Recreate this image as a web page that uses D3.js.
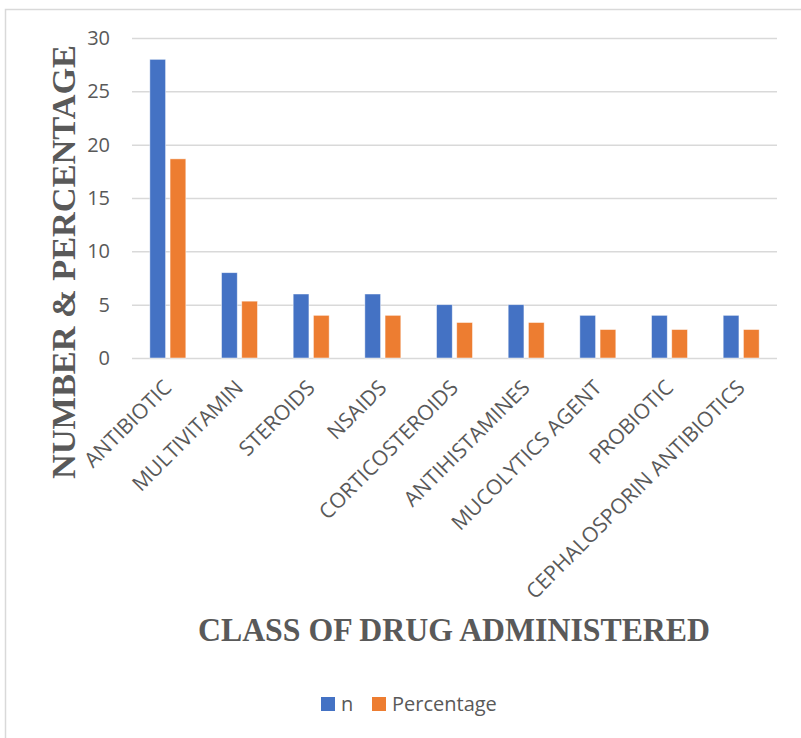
<!DOCTYPE html>
<html>
<head>
<meta charset="utf-8">
<script src="https://cdn.jsdelivr.net/npm/d3@7"></script>
<style>
  body { margin: 0; background: #fff; }
  #chart text { fill: #595959; }
</style>
</head>
<body>
<div id="chart"></div>
<script>
// data
var categories = ["ANTIBIOTIC", "MULTIVITAMIN", "STEROIDS", "NSAIDS", "CORTICOSTEROIDS",
                  "ANTIHISTAMINES", "MUCOLYTICS AGENT", "PROBIOTIC", "CEPHALOSPORIN ANTIBIOTICS"];
var seriesNames = ["n", "Percentage"];
var nValues = [28, 8, 6, 6, 5, 5, 4, 4, 4];
var pctValues = [18.67, 5.33, 4, 4, 3.33, 3.33, 2.67, 2.67, 2.67];
var yTicks = [0, 5, 10, 15, 20, 25, 30];
var colors = ["#4472C4", "#ED7D31"];

var W = 801, H = 738;
var plot = {left: 132, right: 777, top: 38, bottom: 358};

var svg = d3.select("#chart").append("svg")
    .attr("width", W)
    .attr("height", H);

/** frame of the chart area **/
svg.append("rect")
    .attr("x", 5.5)
    .attr("y", 9.5)
    .attr("width", 1000)
    .attr("height", 1000)
    .style("fill", "#fff")
    .style("stroke", "#D9D9D9")
    .style("stroke-width", 1.5);

var rows = categories.map(function(c, i) {
  return {cat: c, vals: [nValues[i], pctValues[i]]};
});

var x0 = d3.scaleBand()
    .domain(categories)
    .range([plot.left, plot.right])
    .padding(0);

var bw = x0.bandwidth();
var x1 = d3.scaleBand()
    .domain(seriesNames)
    .range([bw / 2 - 18, bw / 2 + 18])
    .paddingInner(0.22);

var y = d3.scaleLinear()
    .domain([0, 30])
    .range([plot.bottom, plot.top]);

/** y axis with gridlines **/
var yAxis = svg.append("g")
    .attr("transform", "translate(" + plot.left + ",0)")
    .call(d3.axisLeft(y)
      .tickValues(yTicks)
      .tickSizeInner(-(plot.right - plot.left))
      .tickSizeOuter(0)
      .tickPadding(22));
yAxis.select(".domain").remove();
yAxis.selectAll("line")
    .style("stroke", "#D9D9D9")
    .style("stroke-width", 1.5);
yAxis.selectAll("text")
    .style("font-family", "'Open Sans', sans-serif")
    .style("font-size", "20px");

/** bars **/
var groups = svg.append("g").selectAll("g")
    .data(rows)
    .enter().append("g")
    .attr("transform", function(d) { return "translate(" + x0(d.cat) + ",0)"; });

groups.selectAll("rect")
    .data(function(d) { return d.vals.map(function(v, k) { return {key: seriesNames[k], v: v, k: k}; }); })
    .enter().append("rect")
    .attr("x", function(d) { return x1(d.key); })
    .attr("y", function(d) { return y(d.v); })
    .attr("width", x1.bandwidth())
    .attr("height", function(d) { return y(0) - y(d.v); })
    .style("fill", function(d) { return colors[d.k]; })
    .style("stroke", "#fff")
    .style("stroke-opacity", 0.6)
    .style("stroke-width", 0.8);

/** x axis labels, rotated **/
var xAxis = svg.append("g")
    .attr("transform", "translate(0," + plot.bottom + ")")
    .call(d3.axisBottom(x0).tickSize(0).tickPadding(0));
xAxis.select(".domain").remove();
xAxis.selectAll("text")
    .style("font-family", "'Open Sans', sans-serif")
    .style("font-size", "21px")
    .attr("text-anchor", "end")
    .attr("x", 0)
    .attr("y", 0)
    .attr("dy", 0)
    .attr("transform", "translate(5,31) rotate(-45)");

/** axis titles **/
svg.append("text")
    .text("NUMBER & PERCENTAGE")
    .attr("transform", "translate(75,262) rotate(-90)")
    .attr("text-anchor", "middle")
    .attr("textLength", 434)
    .attr("lengthAdjust", "spacingAndGlyphs")
    .style("font-family", "'Liberation Serif', 'Times New Roman', serif")
    .style("font-weight", "bold")
    .style("font-size", "33px");

svg.append("text")
    .text("CLASS OF DRUG ADMINISTERED")
    .attr("x", 454)
    .attr("y", 641)
    .attr("text-anchor", "middle")
    .attr("textLength", 512)
    .attr("lengthAdjust", "spacingAndGlyphs")
    .style("font-family", "'Liberation Serif', 'Times New Roman', serif")
    .style("font-weight", "bold")
    .style("font-size", "33px");

/** legend **/
var legendX = [321, 372];
var legend = svg.append("g").selectAll("g")
    .data(seriesNames)
    .enter().append("g")
    .attr("transform", function(d, i) { return "translate(" + legendX[i] + ",697)"; });
legend.append("rect")
    .attr("width", 14)
    .attr("height", 14)
    .style("fill", function(d, i) { return colors[i]; });
legend.append("text")
    .text(function(d) { return d; })
    .attr("x", 20)
    .attr("y", 14)
    .style("font-family", "'Open Sans', sans-serif")
    .style("font-size", "20px");
</script>
</body>
</html>
